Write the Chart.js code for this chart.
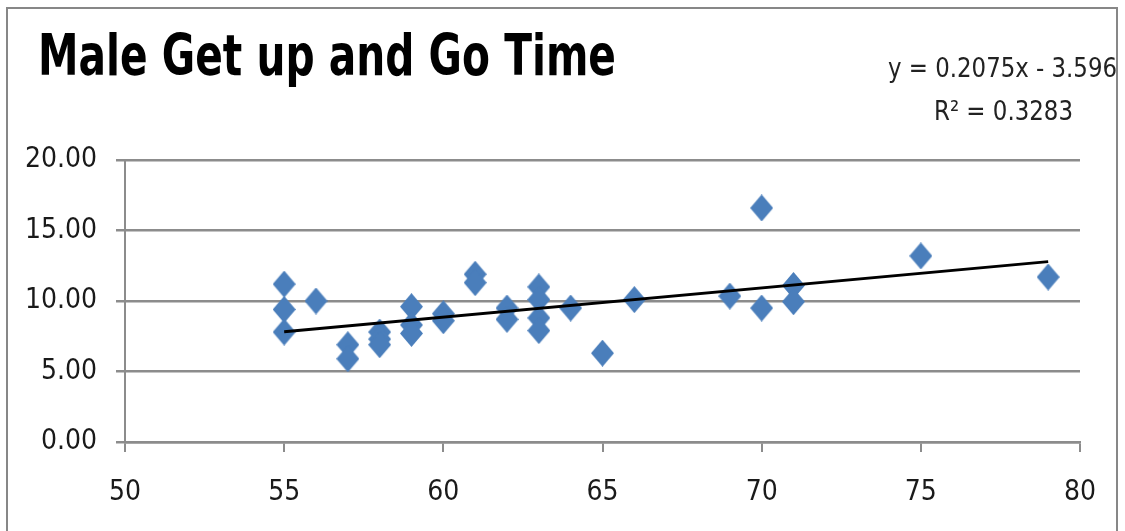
<!DOCTYPE html>
<html>
<head>
<meta charset="utf-8">
<script src="https://cdn.jsdelivr.net/npm/chart.js@4/dist/chart.umd.min.js"></script>
<style>
    html, body { margin: 0; padding: 0; background: #ffffff; }
    #wrap { width: 1125px; height: 531px; position: relative; }
</style>
</head>
<body>
<div id="wrap"><canvas id="myChart" width="1125" height="531"></canvas></div>
<script>
const FONT = "'DejaVu Sans Condensed', 'Liberation Sans Narrow', 'DejaVu Sans', sans-serif";

const chartTitle = "Male Get up and Go Time";
const equationLines = ["y = 0.2075x - 3.596", "R² = 0.3283"];

// age (x) and get up and go time in seconds (y)
const ages = [55, 55, 55, 56, 57, 57, 58, 58, 58, 59, 59, 59, 60, 60, 61, 61,
    62, 62, 63, 63, 63, 63, 64, 65, 66, 69, 70, 70, 71, 71, 75, 79];
const times = [11.2, 9.4, 7.8, 10.0, 6.9, 5.9, 7.8, 7.3, 6.9, 9.6, 8.3, 7.7, 9.1, 8.6, 11.9, 11.3,
    9.5, 8.7, 11.0, 10.1, 8.8, 7.9, 9.5, 6.3, 10.1, 10.35, 16.6, 9.5, 11.1, 9.95, 13.2, 11.7];

// linear trendline end points
const trendX = [55, 79];
const trendY = [7.82, 12.80];

const xTicks = [50, 55, 60, 65, 70, 75, 80];
const yTicks = [0, 5, 10, 15, 20];

const markerColor = "#4a7ebb";
const gridColor = "#8c8c8c";

// diamond marker, a bit taller than wide like the Excel one
function makeDiamond(w, h, color) {
    const c = document.createElement("canvas");
    c.width = w;
    c.height = h;
    const g = c.getContext("2d");
    g.fillStyle = color;
    g.beginPath();
    g.moveTo(w / 2, 0);
    g.lineTo(w, h / 2);
    g.lineTo(w / 2, h);
    g.lineTo(0, h / 2);
    g.closePath();
    g.fill();
    return c;
}
const diamond = makeDiamond(23, 27, markerColor);

const scatterPoints = ages.map((a, i) => ({ x: a, y: times[i] }));
const trendPoints = trendX.map((a, i) => ({ x: a, y: trendY[i] }));

// draw text squeezed to a given width (the original uses a narrow font)
function fitText(c, text, left, baseline, width) {
    const w = c.measureText(text).width;
    c.save();
    c.translate(left, baseline);
    c.scale(width / w, 1);
    c.fillText(text, 0, 0);
    c.restore();
}

// frame, title and equation text
const decorations = {
    id: "decorations",
    afterDraw(chart) {
        const c = chart.ctx;
        c.save();
        c.strokeStyle = "#878787";
        c.lineWidth = 2;
        c.strokeRect(7, 8, 1110, 560);

        c.fillStyle = "#000000";
        c.textBaseline = "alphabetic";
        c.textAlign = "left";
        c.font = "bold 57px " + FONT;
        fitText(c, chartTitle, 38, 75, 578);

        c.fillStyle = "#222222";
        c.font = "27px " + FONT;
        fitText(c, equationLines[0], 888, 77, 229);
        fitText(c, equationLines[1], 934, 120, 139);
        c.restore();
    }
};

const ctx = document.getElementById("myChart");

const chart = new Chart(ctx, {
    type: "scatter",
    data: {
        datasets: [
            {
                type: "line",
                data: trendPoints,
                borderColor: "#000000",
                borderWidth: 2.8,
                pointRadius: 0,
                fill: false,
                order: 0
            },
            {
                data: scatterPoints,
                pointStyle: diamond,
                pointRadius: 12,
                backgroundColor: markerColor,
                borderColor: markerColor,
                order: 1
            }
        ]
    },
    options: {
        responsive: false,
        animation: false,
        layout: {
            padding: { left: 0, top: 160, right: 45, bottom: 0 }
        },
        scales: {
            x: {
                type: "linear",
                min: 50,
                max: 80,
                afterBuildTicks: (scale) => {
                    scale.ticks = xTicks.map(v => ({ value: v }));
                },
                afterFit: (scale) => {
                    scale.height = 89;
                },
                grid: {
                    drawOnChartArea: false,
                    drawTicks: true,
                    tickLength: 10,
                    color: gridColor,
                    lineWidth: 2
                },
                border: { color: gridColor, width: 2.5 },
                ticks: {
                    padding: 24,
                    color: "#1a1a1a",
                    maxRotation: 0,
                    font: { family: FONT, size: 28 }
                }
            },
            y: {
                type: "linear",
                min: 0,
                max: 20,
                afterBuildTicks: (scale) => {
                    scale.ticks = yTicks.map(v => ({ value: v }));
                },
                afterFit: (scale) => {
                    scale.width = 125;
                },
                grid: {
                    drawTicks: true,
                    tickLength: 9,
                    color: gridColor,
                    lineWidth: 2.5
                },
                border: { color: gridColor, width: 2 },
                ticks: {
                    padding: 19,
                    color: "#1a1a1a",
                    font: { family: FONT, size: 28 },
                    callback: (v) => Number(v).toFixed(2)
                }
            }
        },
        plugins: {
            legend: { display: false },
            tooltip: { enabled: false }
        }
    },
    plugins: [decorations]
});
</script>
</body>
</html>
